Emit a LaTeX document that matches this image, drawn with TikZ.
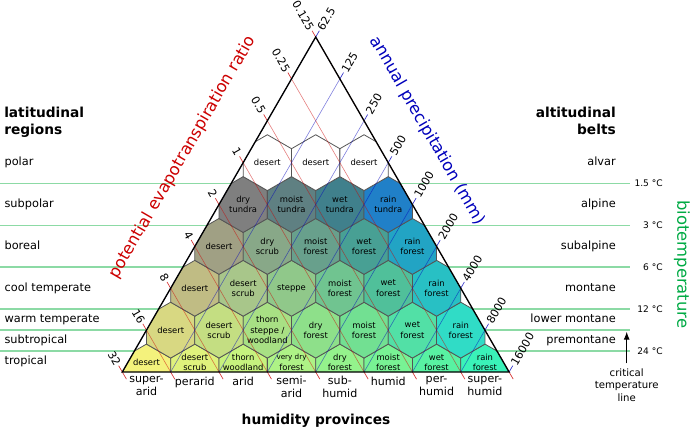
\documentclass[tikz,border=0pt]{standalone}
\usepackage{fontspec}
\setmainfont{DejaVu Sans}
\usetikzlibrary{arrows.meta}

\definecolor{petred}{RGB}{204,0,0}
\definecolor{precblue}{RGB}{0,0,187}
\definecolor{biogreen}{RGB}{0,170,68}
\definecolor{zonegreen}{RGB}{140,218,165}
\definecolor{hexedge}{RGB}{85,85,85}

\newcommand\hexr{0.57735}
% one hexagon: centre x, centre y, fill (HTML)
\newcommand\hexcell[3]{%
  \definecolor{cellfill}{HTML}{#3}%
  \filldraw[hexcell, fill=cellfill] (#1,#2) +(30:\hexr) -- +(90:\hexr) -- +(150:\hexr)
    -- +(210:\hexr) -- +(270:\hexr) -- +(330:\hexr) -- cycle;%
}

\begin{document}
\begin{tikzpicture}[x=36.26pt, y=36.26pt,
  zoneline/.style={draw=zonegreen, line width=1.3pt},
  hexcell/.style={draw=hexedge, line width=0.6pt},
  hexlabel/.style={font=\fontsize{6.3}{7.8}\selectfont, align=center, inner sep=0pt},
  petline/.style={draw=petred, line width=0.45pt, opacity=0.5},
  precline/.style={draw=precblue, line width=0.45pt, opacity=0.5},
  pettick/.style={draw=petred!80, line width=0.5pt},
  prectick/.style={draw=precblue!80, line width=0.5pt},
  ticklabel/.style={font=\fontsize{8.3}{10}\selectfont, inner sep=1pt},
  zonelabel/.style={font=\fontsize{8.5}{10}\selectfont, inner sep=0pt, text height=6.5pt, text depth=1.8pt},
  provlabel/.style={font=\fontsize{8.3}{10}\selectfont, align=center, inner sep=0pt, execute at begin node=\strut},
  templabel/.style={font=\fontsize{6.8}{8}\selectfont, inner sep=0pt},
  header/.style={font=\bfseries\fontsize{10.3}{12.5}\selectfont, inner sep=0pt},
  axistitle/.style={font=\fontsize{12.3}{14}\selectfont, inner sep=0pt}]
\useasboundingbox (-2.5295,-1.1789) rectangle (11.7415,7.6939);

\coordinate (base left) at (0,0);
\coordinate (base right) at (8,0);
\coordinate (apex) at (4,6.9282);

% biotemperature lines
\foreach \bt/\yy [count=\i] in {24/0.433, 12/1.299, 6/2.165, 3/3.031, 1.5/3.897} {
  \coordinate (belt\i) at (-2.53,\yy);
  \coordinate (beltend\i) at (10.5,\yy);
  \draw[zoneline] (belt\i) -- (beltend\i);
  \node[templabel, anchor=east] (temp\i) at (11.183,\yy) {\bt\ °C};
}
\coordinate (critical) at (-2.53,0.866);
\coordinate (criticalend) at (10.5,0.866);
\draw[zoneline] (critical) -- (criticalend);

% hexagons
\begin{scope}
\clip (base left) -- (base right) -- (apex) -- cycle;
% tropical
\foreach \x/\c/\txt [count=\i] in {0.5/F4F27C/desert, 1.5/DFF27C/{desert\\scrub},
    2.5/C6F27E/{thorn\\woodland}, 3.5/AEF286/{{\fontsize{5.4}{6}\selectfont very dry}\\forest},
    4.5/94F28C/{dry\\forest}, 5.5/78F294/{moist\\forest}, 6.5/58F2A2/{wet\\forest},
    7.5/3AF2B8/{rain\\forest}} {
  \hexcell{\x}{0}{\c}
  \node[hexlabel] (tropical\i) at (\x,0.2) {\txt};
}
% subtropical / warm temperate
\foreach \x/\c/\txt [count=\i] in {1/D8D882/desert, 2/C4DE82/{desert\\scrub},
    3/A8E084/{thorn\\steppe /\\woodland}, 4/8EE08A/{dry\\forest}, 5/72E092/{moist\\forest},
    6/52E0A6/{wet\\forest}, 7/30DCC6/{rain\\forest}} {
  \hexcell{\x}{0.866}{\c}
  \node[hexlabel] (warm\i) at (\x,0.866) {\txt};
}
% cool temperate
\foreach \x/\c/\txt [count=\i] in {1.5/C0BC84/desert, 2.5/A8C68A/{desert\\scrub},
    3.5/90C88A/steppe, 4.5/70C490/{moist\\forest}, 5.5/50C09A/{wet\\forest},
    6.5/28C0C4/{rain\\forest}} {
  \hexcell{\x}{1.732}{\c}
  \node[hexlabel] (cool\i) at (\x,1.732) {\txt};
}
% boreal
\foreach \x/\c/\txt [count=\i] in {2/A0A084/desert, 3/88A888/{dry\\scrub},
    4/68A08C/{moist\\forest}, 5/48A094/{wet\\forest}, 6/22A4C4/{rain\\forest}} {
  \hexcell{\x}{2.598}{\c}
  \node[hexlabel] (boreal\i) at (\x,2.598) {\txt};
}
% subpolar
\foreach \x/\c/\txt [count=\i] in {2.5/7F7F7F/{dry\\tundra}, 3.5/5F8082/{moist\\tundra},
    4.5/40808C/{wet\\tundra}, 5.5/2080C8/{rain\\tundra}} {
  \hexcell{\x}{3.464}{\c}
  \node[hexlabel] (subpolar\i) at (\x,3.464) {\txt};
}
% polar
\foreach \x [count=\i] in {3,4,5} {
  \hexcell{\x}{4.330}{FFFFFF}
  \node[hexlabel] (polar\i) at (\x,4.330) {desert};
}
\end{scope}

% evapotranspiration ratio
\foreach \j/\v in {0/32, 1/16, 2/8, 3/4, 4/2, 5/1, 6/0.5, 7/0.25, 8/0.125} {
  \coordinate (pet\j) at ({0.5*\j},{0.8660*\j});
  \coordinate (petbase\j) at (\j,0);
  \draw[petline] (pet\j) -- (petbase\j);
  \draw[pettick] (pet\j) -- ++(120:0.15) node[ticklabel, anchor=east, rotate=-60] (petlabel\j) {\v};
  \draw[pettick] (petbase\j) -- ++(-60:0.17);
}
% precipitation
\foreach \j/\v in {0/16000, 1/8000, 2/4000, 3/2000, 4/1000, 5/500, 6/250, 7/125, 8/62.5} {
  \coordinate (prec\j) at ({8-0.5*\j},{0.8660*\j});
  \coordinate (precbase\j) at ({8-\j},0);
  \draw[precline] (precbase\j) -- (prec\j);
  \draw[prectick] (prec\j) -- ++(60:0.15) node[ticklabel, anchor=west, rotate=60] (preclabel\j) {\v};
}

\draw[line width=1pt, line join=miter] (base left) -- (base right) -- (apex) -- cycle;

% humidity provinces
\foreach \x/\txt [count=\i] in {0.5/{super-\\arid}, 1.5/perarid, 2.5/arid, 3.5/{semi-\\arid},
    4.5/{sub-\\humid}, 5.5/humid, 6.5/{per-\\humid}, 7.5/{super-\\humid}} {
  \node[provlabel, anchor=north] (province\i) at (\x,-0.077) {\txt};
}
\node[header] (humidity) at (4.006,-1.013) {humidity provinces};

% latitudinal regions
\node[header, align=left, anchor=north west] (latitude) at (-2.447,5.48) {latitudinal\\regions};
\foreach \txt/\yy [count=\i] in {polar/4.330, subpolar/3.464, boreal/2.598, cool temperate/1.732,
    warm temperate/1.083, subtropical/0.650, tropical/0.217} {
  \node[zonelabel, anchor=west] (region\i) at (-2.44,\yy) {\txt};
}
% altitudinal belts
\node[header, align=right, anchor=north east] (altitude) at (10.211,5.48) {altitudinal\\belts};
\foreach \txt/\yy [count=\i] in {alvar/4.330, alpine/3.464, subalpine/2.598, montane/1.732,
    lower montane/1.083, premontane/0.650} {
  \node[zonelabel, anchor=east] (belt label\i) at (10.211,\yy) {\txt};
}

% critical temperature line
\coordinate (crit tail) at (10.432,0.18);
\coordinate (crit tip) at (10.432,0.834);
\draw[line width=0.75pt, -{Latex[length=6pt, width=4.5pt]}] (crit tail) -- (crit tip);
\node[font=\fontsize{7.6}{9.4}\selectfont, align=center, anchor=north, inner sep=0pt,
  execute at begin node=\strut] (critical text) at (10.432,0.075) {critical\\temperature\\line};

% axis titles
\node[axistitle, text=petred, rotate=60] (pet title) at (1.245,4.436) {potential evapotranspiration ratio};
\node[axistitle, text=precblue, rotate=-60] (prec title) at (6.312,4.989) {annual precipitation (mm)};
\node[axistitle, text=biogreen, rotate=-90] (bio title) at (11.576,2.229) {biotemperature};
\end{tikzpicture}
\end{document}
